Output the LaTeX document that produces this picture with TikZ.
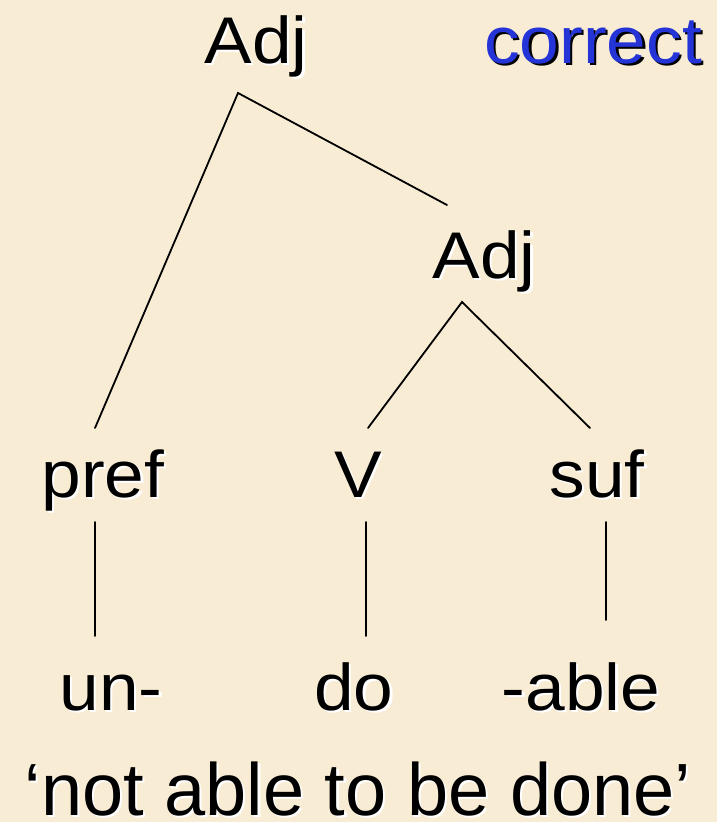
\documentclass[tikz,border=0pt]{standalone}
\usepackage{fontspec}
\setmainfont{Liberation Sans}
\usepackage{graphicx}
\definecolor{parch}{RGB}{249,236,212}
\definecolor{corblue}{RGB}{36,52,214}
\newcommand{\shtext}[3]{\makebox[0pt][l]{\hspace{2.2pt}\raisebox{-2.2pt}{\color{#2}#1}}{\color{#3}#1}}
\newcommand{\lab}[1]{\scalebox{1.08}[1]{\fontsize{66}{70}\selectfont\shtext{#1}{white}{black}}}
\tikzset{
  lbl/.style={inner sep=0pt, anchor=base},
  edge/.style={line width=1.8pt, black, line cap=round}
}
\begin{document}
\begin{tikzpicture}[x=1pt,y=-1pt]
\fill[parch] (0,0) rectangle (717,822);
\useasboundingbox (0,0) rectangle (717,822);
\node[lbl] (adj1) at (256,63) {\lab{Adj}};
\node[lbl] (corr) at (593,63) {\scalebox{1.08}[1]{\fontsize{66}{70}\selectfont\shtext{correct}{black}{corblue}}};
\node[lbl] (adj2) at (484,278) {\lab{Adj}};
\node[lbl] (pref) at (103,497) {\lab{pref}};
\node[lbl] (v) at (358,497) {\lab{V}};
\node[lbl] (suf) at (597,497) {\lab{suf}};
\node[lbl] (un) at (111,710) {\lab{un-}};
\node[lbl] (do) at (354,710) {\lab{do}};
\node[lbl] (able) at (581,710) {\lab{-able}};
\node[lbl] (gloss) at (358,815) {\fontsize{74}{78}\selectfont\shtext{‘not able to be done’}{white}{black}};
\coordinate (a1) at (238,93);
\coordinate (a1l) at (95,428);
\coordinate (a1r) at (447,205);
\coordinate (a2) at (462,302);
\coordinate (a2l) at (368,428);
\coordinate (a2r) at (590,428);
\coordinate (p1) at (95,522);
\coordinate (p2) at (95,636);
\coordinate (v1) at (366,522);
\coordinate (v2) at (366,636);
\coordinate (s1) at (606,522);
\coordinate (s2) at (606,620);
\draw[edge] (a1l) -- (a1) -- (a1r);
\draw[edge] (a2l) -- (a2) -- (a2r);
\draw[edge] (p1) -- (p2);
\draw[edge] (v1) -- (v2);
\draw[edge] (s1) -- (s2);
\end{tikzpicture}
\end{document}
